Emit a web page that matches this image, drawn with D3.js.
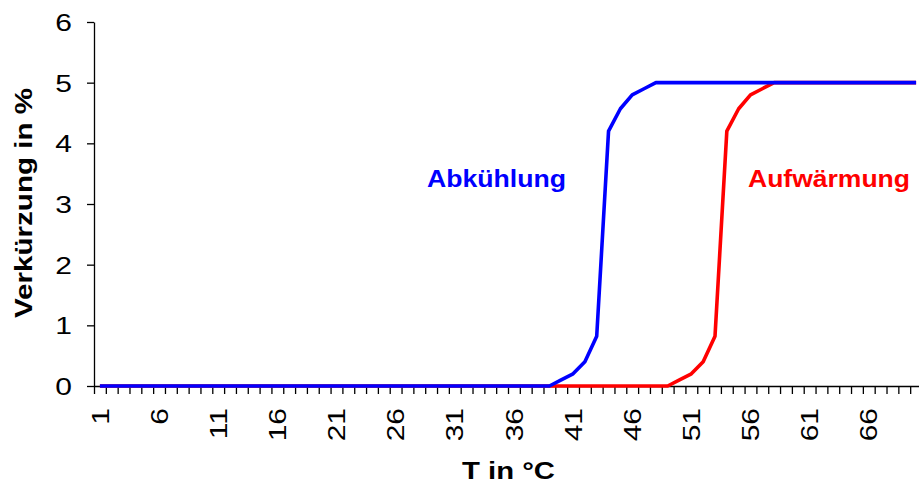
<!DOCTYPE html>
<html>
<head>
<meta charset="utf-8">
<script src="https://cdn.jsdelivr.net/npm/d3@7"></script>
<style>
  body { margin: 0; background: #fff; }
  svg { display: block; font-family: Arial, "Liberation Sans", sans-serif; }
</style>
</head>
<body>
<svg width="919" height="486"></svg>
<script>
// Temperaturen (Kategorien 1..70)
var temps = [1,2,3,4,5,6,7,8,9,10,11,12,13,14,15,16,17,18,19,20,
             21,22,23,24,25,26,27,28,29,30,31,32,33,34,35,36,37,38,39,40,
             41,42,43,44,45,46,47,48,49,50,51,52,53,54,55,56,57,58,59,60,
             61,62,63,64,65,66,67,68,69,70];

// Abkühlung (blau)
var cooling = [0,0,0,0,0,0,0,0,0,0, 0,0,0,0,0,0,0,0,0,0,
               0,0,0,0,0,0,0,0,0,0, 0,0,0,0,0,0,0,0,0,0.1,
               0.2,0.4,0.82,4.2,4.57,4.8,4.9,5,5,5, 5,5,5,5,5,5,5,5,5,5,
               5,5,5,5,5,5,5,5,5,5];

// Aufwärmung (rot)
var heating = [0,0,0,0,0,0,0,0,0,0, 0,0,0,0,0,0,0,0,0,0,
               0,0,0,0,0,0,0,0,0,0, 0,0,0,0,0,0,0,0,0,0,
               0,0,0,0,0,0,0,0,0,0.1, 0.2,0.4,0.82,4.2,4.57,4.8,4.9,5,5,5,
               5,5,5,5,5,5,5,5,5,5];

var xLabels = [1,6,11,16,21,26,31,36,41,46,51,56,61,66];
var yTicks = [0,1,2,3,4,5,6];

var svg = d3.select("svg");
var m = {left: 94, right: 922, top: 22, bottom: 386};
var stretch = 1.25; // Schrift ist in der Vorlage etwas breit gezogen

var x = d3.scaleBand().domain(temps).range([m.left, m.right]).paddingInner(0).paddingOuter(0);
var xEdge = d3.scaleLinear().domain([0, temps.length]).range([m.left, m.right]);
var y = d3.scaleLinear().domain([0, 6]).range([m.bottom, m.top]);

// y axis
var gy = svg.append("g").attr("transform", "translate(" + m.left + ",0)")
  .call(d3.axisLeft(y).tickValues(yTicks).tickFormat(d3.format("d")).tickSize(7).tickSizeOuter(0));
gy.select(".domain").attr("stroke", "#000").attr("stroke-width", 1.3);
gy.selectAll(".tick line").attr("stroke", "#000").attr("stroke-width", 1.3);
gy.selectAll(".tick text")
  .attr("font-size", 24).attr("fill", "#000")
  .attr("x", -22 / stretch).attr("dy", "0.36em")
  .attr("transform", "scale(" + stretch + ",1)");

// x axis: Striche zwischen den Kategorien
var gx = svg.append("g").attr("transform", "translate(0," + m.bottom + ")")
  .call(d3.axisBottom(xEdge).ticks(temps.length).tickFormat("").tickSize(8).tickSizeOuter(0));
gx.select(".domain").attr("stroke", "#000").attr("stroke-width", 1.3);
gx.selectAll(".tick line").attr("stroke", "#000").attr("stroke-width", 1.3);

// x axis labels, gedreht
var gxl = svg.append("g").attr("transform", "translate(0," + m.bottom + ")")
  .call(d3.axisBottom(x).tickValues(xLabels).tickSize(0));
gxl.select(".domain").remove();
gxl.selectAll(".tick text")
  .attr("font-size", 24).attr("fill", "#000")
  .attr("y", 0).attr("dy", "0.36em")
  .attr("text-anchor", "end")
  .attr("transform", "translate(0,22) rotate(-90) scale(" + stretch + ",1)");

// lines
var line = d3.line()
  .x(function(d, i) { return x(temps[i]) + x.bandwidth() / 2; })
  .y(function(d) { return y(d); });

svg.append("path").datum(heating)
  .attr("d", line).attr("fill", "none")
  .attr("stroke", "#ff0000").attr("stroke-width", 3.6)
  .attr("stroke-linejoin", "round");

svg.append("path").datum(cooling)
  .attr("d", line).attr("fill", "none")
  .attr("stroke", "#0000ff").attr("stroke-width", 3.6)
  .attr("stroke-linejoin", "round");

// Beschriftungen
svg.append("text").attr("x", 427).attr("y", 187)
  .attr("font-size", 24).attr("font-weight", "bold").attr("fill", "#0000ff")
  .attr("textLength", 139).attr("lengthAdjust", "spacingAndGlyphs")
  .text("Abkühlung");

svg.append("text").attr("x", 748).attr("y", 187)
  .attr("font-size", 24).attr("font-weight", "bold").attr("fill", "#ff0000")
  .attr("textLength", 162).attr("lengthAdjust", "spacingAndGlyphs")
  .text("Aufwärmung");

svg.append("text").attr("x", 462).attr("y", 479)
  .attr("font-size", 24).attr("font-weight", "bold").attr("fill", "#000")
  .attr("textLength", 93).attr("lengthAdjust", "spacingAndGlyphs")
  .text("T in °C");

svg.append("text").attr("transform", "translate(32,318) rotate(-90)")
  .attr("font-size", 24).attr("font-weight", "bold").attr("fill", "#000")
  .attr("textLength", 230).attr("lengthAdjust", "spacingAndGlyphs")
  .text("Verkürzung in %");
</script>
</body>
</html>
